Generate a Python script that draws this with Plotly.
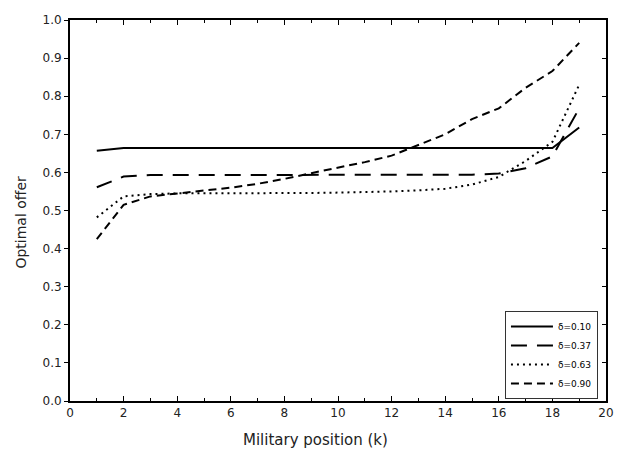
import plotly.graph_objects as go

k = list(range(1, 20))
d10 = [0.657] + [0.664] * 17 + [0.718]
d37 = [0.561, 0.589, 0.593, 0.593, 0.593, 0.593, 0.593, 0.593, 0.593, 0.593,
       0.593, 0.593, 0.593, 0.593, 0.594, 0.597, 0.611, 0.642, 0.768]
d63 = [0.482, 0.537, 0.543, 0.545, 0.545, 0.545, 0.545, 0.545, 0.546, 0.547,
       0.548, 0.550, 0.553, 0.557, 0.568, 0.588, 0.630, 0.680, 0.830]
d90 = [0.425, 0.515, 0.537, 0.545, 0.551, 0.560, 0.570, 0.583, 0.598, 0.612,
       0.627, 0.644, 0.673, 0.700, 0.740, 0.768, 0.822, 0.866, 0.940]

labels = ["δ=0.10", "δ=0.37", "δ=0.63", "δ=0.90"]
series = [d10, d37, d63, d90]
dashes = ["solid", "16px,10px", "2px,4px", "8px,5px"]
yaxes = ["y2", "y", "y", "y"]

fig = go.Figure()
for lab, ys, dsh, ya in zip(labels, series, dashes, yaxes):
    fig.add_trace(go.Scatter(x=k, y=ys, mode="lines", name=lab, yaxis=ya,
                             line=dict(color="black", width=2, dash=dsh)))

font = "DejaVu Sans"
fig.update_layout(
    width=626, height=456,
    margin=dict(l=70, r=14, t=20, b=55),
    paper_bgcolor="white", plot_bgcolor="white",
    font=dict(family=font, size=12, color="#222"),
    showlegend=True,
    legend=dict(x=0.985, y=0.005, xanchor="right", yanchor="bottom",
                bordercolor="#333", borderwidth=1, bgcolor="white",
                font=dict(family=font, size=9, color="black"),
                tracegroupgap=0, itemwidth=42, traceorder="normal"),
    xaxis=dict(range=[0, 20], dtick=2, tick0=0, ticks="inside", ticklen=5,
               tickwidth=1, tickcolor="black",
               minor=dict(dtick=1, ticks="inside", ticklen=3, tickcolor="black"),
               showline=True, linewidth=2, linecolor="black", mirror="ticks",
               showgrid=False, zeroline=False),
    yaxis=dict(range=[0, 1], dtick=0.1, tick0=0, tickformat=".1f",
               ticks="outside", ticklen=4, tickwidth=1, tickcolor="black",
               showline=True, linewidth=2, linecolor="black", mirror=True,
               showgrid=False, zeroline=False),
    yaxis2=dict(range=[0, 1], dtick=0.1, tick0=0, overlaying="y", side="right",
                ticks="inside", ticklen=4, tickwidth=1, tickcolor="black",
                showticklabels=False, showgrid=False, zeroline=False,
                showline=False),
    annotations=[
        dict(text="Military position (k)", xref="paper", yref="paper",
             x=0.4576, y=-0.102, xanchor="center", yanchor="middle",
             showarrow=False, font=dict(family=font, size=15, color="#222")),
        dict(text="Optimal offer", xref="paper", yref="paper",
             x=-0.092, y=0.47, xanchor="center", yanchor="middle",
             textangle=-90, showarrow=False,
             font=dict(family=font, size=14, color="#222")),
    ],
)
fig.write_html("out.html")
